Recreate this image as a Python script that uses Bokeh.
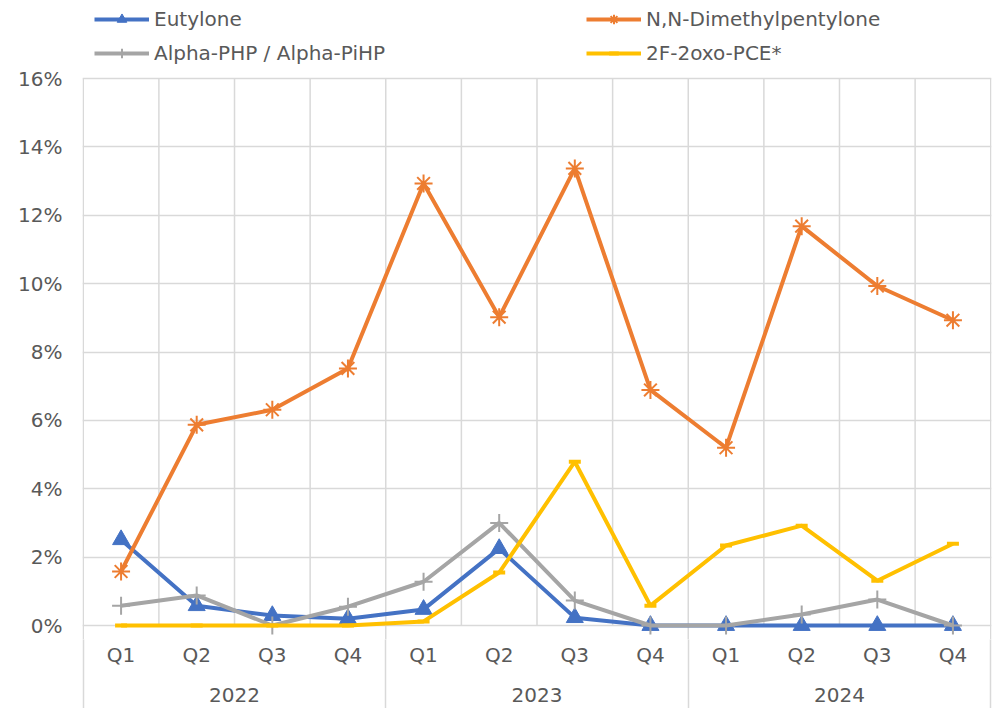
from bokeh.plotting import figure
from bokeh.models import (Range1d, FixedTicker, LinearAxis, NumeralTickFormatter,
                          Legend, LegendItem)
from bokeh.embed import file_html
from bokeh.resources import INLINE

# ---- data ----
years = ["2022", "2023", "2024"]
quarters = ["Q1", "Q2", "Q3", "Q4"]
periods = [(y, q) for y in years for q in quarters]

eutylone = [2.51, 0.58, 0.29, 0.20, 0.47, 2.25, 0.23, 0.0, 0.0, 0.0, 0.0, 0.0]
nndmp = [1.58, 5.87, 6.31, 7.52, 12.93, 9.02, 13.37, 6.89, 5.20, 11.68, 9.93, 8.93]
alpha_php = [0.58, 0.88, 0.0, 0.55, 1.28, 3.00, 0.73, 0.0, 0.0, 0.32, 0.76, 0.0]
f2oxo = [0.0, 0.0, 0.0, 0.0, 0.12, 1.55, 4.79, 0.58, 2.34, 2.92, 1.31, 2.39]

y_ticks = [0, 2, 4, 6, 8, 10, 12, 14, 16]

series_names = ["Eutylone", "N,N-Dimethylpentylone", "Alpha-PHP / Alpha-PiHP", "2F-2oxo-PCE*"]
colors = ["#4472C4", "#ED7D31", "#A5A5A5", "#FFC000"]

FONT = "DejaVu Sans"
TXT = "#595959"
GRID = "#D9D9D9"

n = len(periods)
xs = [i + 0.5 for i in range(n)]
to_frac = lambda vals: [v / 100.0 for v in vals]
y_hi = y_ticks[-1] / 100.0

# layout (pixels): plot band from 0% (y=625) to 16% (y=78); frame spans 0..639
W, H = 992, 708
TOP_PX, ZERO_PX, FRAME_BOTTOM = 78, 625, 639
px_per_unit = (ZERO_PX - TOP_PX) / y_hi
y_lo = -(FRAME_BOTTOM - ZERO_PX) / px_per_unit      # room under 0% for markers
y_top = y_hi + TOP_PX / px_per_unit                 # room above 16% for the legend

p = figure(width=W, height=H, output_backend="svg", toolbar_location=None,
           x_range=Range1d(-0.01, n + 0.01), y_range=Range1d(y_lo, y_top),
           min_border_left=82, min_border_right=1, min_border_top=0,
           min_border_bottom=H - FRAME_BOTTOM)
p.outline_line_color = None
p.background_fill_color = "white"
p.border_fill_color = "white"

# horizontal grid
p.ygrid.ticker = FixedTicker(ticks=[t / 100.0 for t in y_ticks])
p.ygrid.grid_line_color = GRID
p.ygrid.grid_line_width = 1.5
# vertical grid (category boundaries) from 0% to 16%; group separators go lower
p.xgrid.visible = False
bounds = list(range(n + 1))
group_bounds = [i * len(quarters) for i in range(len(years) + 1)]
p.segment(x0=bounds, y0=[0] * len(bounds), x1=bounds, y1=[y_hi] * len(bounds),
          line_color=GRID, line_width=1.5)
p.segment(x0=group_bounds, y0=[y_lo] * len(group_bounds), x1=group_bounds,
          y1=[0] * len(group_bounds), line_color=GRID, line_width=1.5)

# y axis
ya = p.yaxis[0]
ya.ticker = FixedTicker(ticks=[t / 100.0 for t in y_ticks])
ya.formatter = NumeralTickFormatter(format="0%")
ya.axis_line_color = None
ya.major_tick_line_color = None
ya.minor_tick_line_color = None
ya.major_tick_out = 0
ya.major_label_standoff = 20
ya.major_label_text_font = FONT
ya.major_label_text_font_size = "20px"
ya.major_label_text_color = TXT

# x axis: quarters, with group separators as long minor ticks
xa = p.xaxis[0]
xa.ticker = FixedTicker(ticks=xs, minor_ticks=group_bounds)
xa.major_label_overrides = {x: q for x, (y, q) in zip(xs, periods)}
xa.axis_line_color = None
xa.major_tick_line_color = None
xa.major_tick_out = 0
xa.major_tick_in = 0
xa.minor_tick_in = 0
xa.minor_tick_out = H - FRAME_BOTTOM
xa.minor_tick_line_color = GRID
xa.minor_tick_line_width = 1.5
xa.major_label_standoff = 3 - (H - FRAME_BOTTOM)
xa.major_label_text_font = FONT
xa.major_label_text_font_size = "20px"
xa.major_label_text_color = TXT

# year axis
year_centers = [(group_bounds[i] + group_bounds[i + 1]) / 2 for i in range(len(years))]
ya2 = LinearAxis(ticker=FixedTicker(ticks=year_centers),
                 major_label_overrides={c: y for c, y in zip(year_centers, years)})
ya2.axis_line_color = None
ya2.major_tick_line_color = None
ya2.minor_tick_line_color = None
ya2.major_tick_out = 0
ya2.major_tick_in = 0
ya2.major_label_standoff = 18
ya2.major_label_text_font = FONT
ya2.major_label_text_font_size = "20px"
ya2.major_label_text_color = TXT
p.add_layout(ya2, "below")

# series
items = []
l1 = p.line(xs, to_frac(eutylone), line_color=colors[0], line_width=4)
s1 = p.scatter(xs, to_frac(eutylone), marker="triangle", size=17,
               fill_color=colors[0], line_color=colors[0])
items.append(LegendItem(label=series_names[0], renderers=[l1, s1]))

l2 = p.line(xs, to_frac(nndmp), line_color=colors[1], line_width=4)
s2 = p.scatter(xs, to_frac(nndmp), marker="asterisk", size=18,
               line_color=colors[1], line_width=2)
items.append(LegendItem(label=series_names[1], renderers=[l2, s2]))

l3 = p.line(xs, to_frac(alpha_php), line_color=colors[2], line_width=4)
s3 = p.scatter(xs, to_frac(alpha_php), marker="cross", size=18,
               line_color=colors[2], line_width=2)
items.append(LegendItem(label=series_names[3 - 1], renderers=[l3, s3]))

l4 = p.line(xs, to_frac(f2oxo), line_color=colors[3], line_width=4)
s4 = p.scatter(xs, to_frac(f2oxo), marker="dash", size=12,
               line_color=colors[3], line_width=4)
items.append(LegendItem(label=series_names[3], renderers=[l4, s4]))

legend = Legend(items=items, location=(12, FRAME_BOTTOM - 65),
                orientation="horizontal", ncols=2,
                glyph_width=55, glyph_height=24, label_height=24, label_width=422,
                label_standoff=5, spacing=10, padding=0, margin=0,
                border_line_color=None, background_fill_alpha=0,
                label_text_font=FONT, label_text_font_size="20px",
                label_text_color=TXT)
p.add_layout(legend)

open("out.html", "w").write(file_html(p, INLINE))
